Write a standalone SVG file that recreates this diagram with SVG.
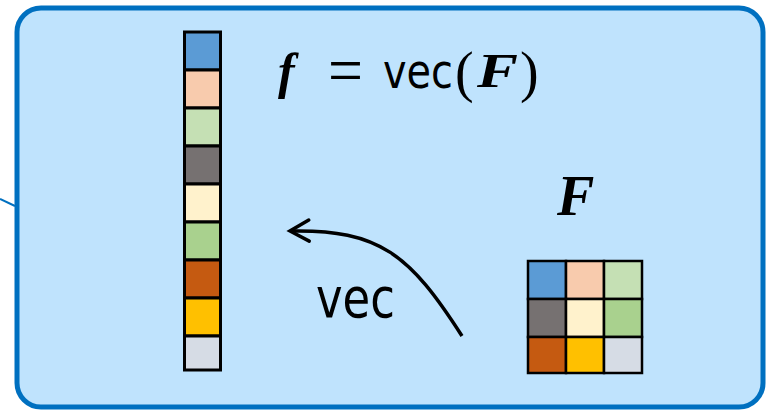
<svg xmlns="http://www.w3.org/2000/svg" width="768" height="410" viewBox="0 0 768 410">
<style>
.cell{stroke:#000;stroke-width:3}
.m{stroke:#000;stroke-width:2.5}
.serif{font-family:"Liberation Serif","DejaVu Serif",serif;fill:#000}
.bi{font-weight:bold;font-style:italic}
.sans{font-family:"DejaVu Sans","Liberation Sans",sans-serif;fill:#000}
.c1{fill:#5B9BD5}.c2{fill:#F8CBAD}.c3{fill:#C5E0B4}.c4{fill:#767171}.c5{fill:#FFF2CC}.c6{fill:#A9D18E}.c7{fill:#C55A11}.c8{fill:#FFC000}.c9{fill:#D6DCE5}
</style>
<defs>
<marker id="ah" markerUnits="userSpaceOnUse" viewBox="-22 -14 26 28" markerWidth="26" markerHeight="28" refX="0" refY="0" orient="auto" overflow="visible">
<path d="M-19,-10.5 L0,0 L-19,10.5" fill="none" stroke="#000" stroke-width="3.5" stroke-linecap="round" stroke-linejoin="miter"/>
</marker>
</defs>
<g id="panel">
<line x1="0" y1="199" x2="15" y2="206" stroke="#0070C0" stroke-width="2"/>
<rect x="17" y="8" width="746" height="399" rx="24" fill="#BFE3FD" stroke="#0070C0" stroke-width="5"/>
</g>
<g id="vector-f">
<rect class="cell c1" x="184.5" y="32" width="36" height="38"/>
<rect class="cell c2" x="184.5" y="70" width="36" height="38"/>
<rect class="cell c3" x="184.5" y="108" width="36" height="38"/>
<rect class="cell c4" x="184.5" y="146" width="36" height="38"/>
<rect class="cell c5" x="184.5" y="184" width="36" height="38"/>
<rect class="cell c6" x="184.5" y="222" width="36" height="38"/>
<rect class="cell c7" x="184.5" y="260" width="36" height="38"/>
<rect class="cell c8" x="184.5" y="298" width="36" height="38"/>
<rect class="cell c9" x="184.5" y="336" width="36" height="34"/>
</g>
<g id="formula">
<text class="serif bi" x="278" y="88" font-size="50">f</text>
<text class="serif" x="328" y="93" font-size="68" textLength="35" lengthAdjust="spacingAndGlyphs">=</text>
<text class="sans" x="383" y="88" font-size="48" textLength="70" lengthAdjust="spacingAndGlyphs">vec</text>
<text class="serif" x="455" y="91" font-size="56">(</text>
<text class="serif bi" x="477" y="87" font-size="48" textLength="41" lengthAdjust="spacingAndGlyphs">F</text>
<text class="serif" x="520" y="91" font-size="56">)</text>
</g>
<g id="matrix-F">
<text class="serif bi" x="557" y="215" font-size="56">F</text>
<rect class="m c1" x="528" y="261" width="38" height="38"/>
<rect class="m c2" x="566" y="261" width="38" height="38"/>
<rect class="m c3" x="604" y="261" width="38" height="38"/>
<rect class="m c4" x="528" y="299" width="38" height="38"/>
<rect class="m c5" x="566" y="299" width="38" height="38"/>
<rect class="m c6" x="604" y="299" width="38" height="38"/>
<rect class="m c7" x="528" y="337" width="38" height="36"/>
<rect class="m c8" x="566" y="337" width="38" height="36"/>
<rect class="m c9" x="604" y="337" width="38" height="36"/>
</g>
<g id="connectors">
<path d="M462,336 C410,255 380,229 290,231" fill="none" stroke="#000" stroke-width="3.5" marker-end="url(#ah)"/>
<text class="sans" x="316" y="317" font-size="55" textLength="79" lengthAdjust="spacingAndGlyphs">vec</text>
</g>
</svg>
